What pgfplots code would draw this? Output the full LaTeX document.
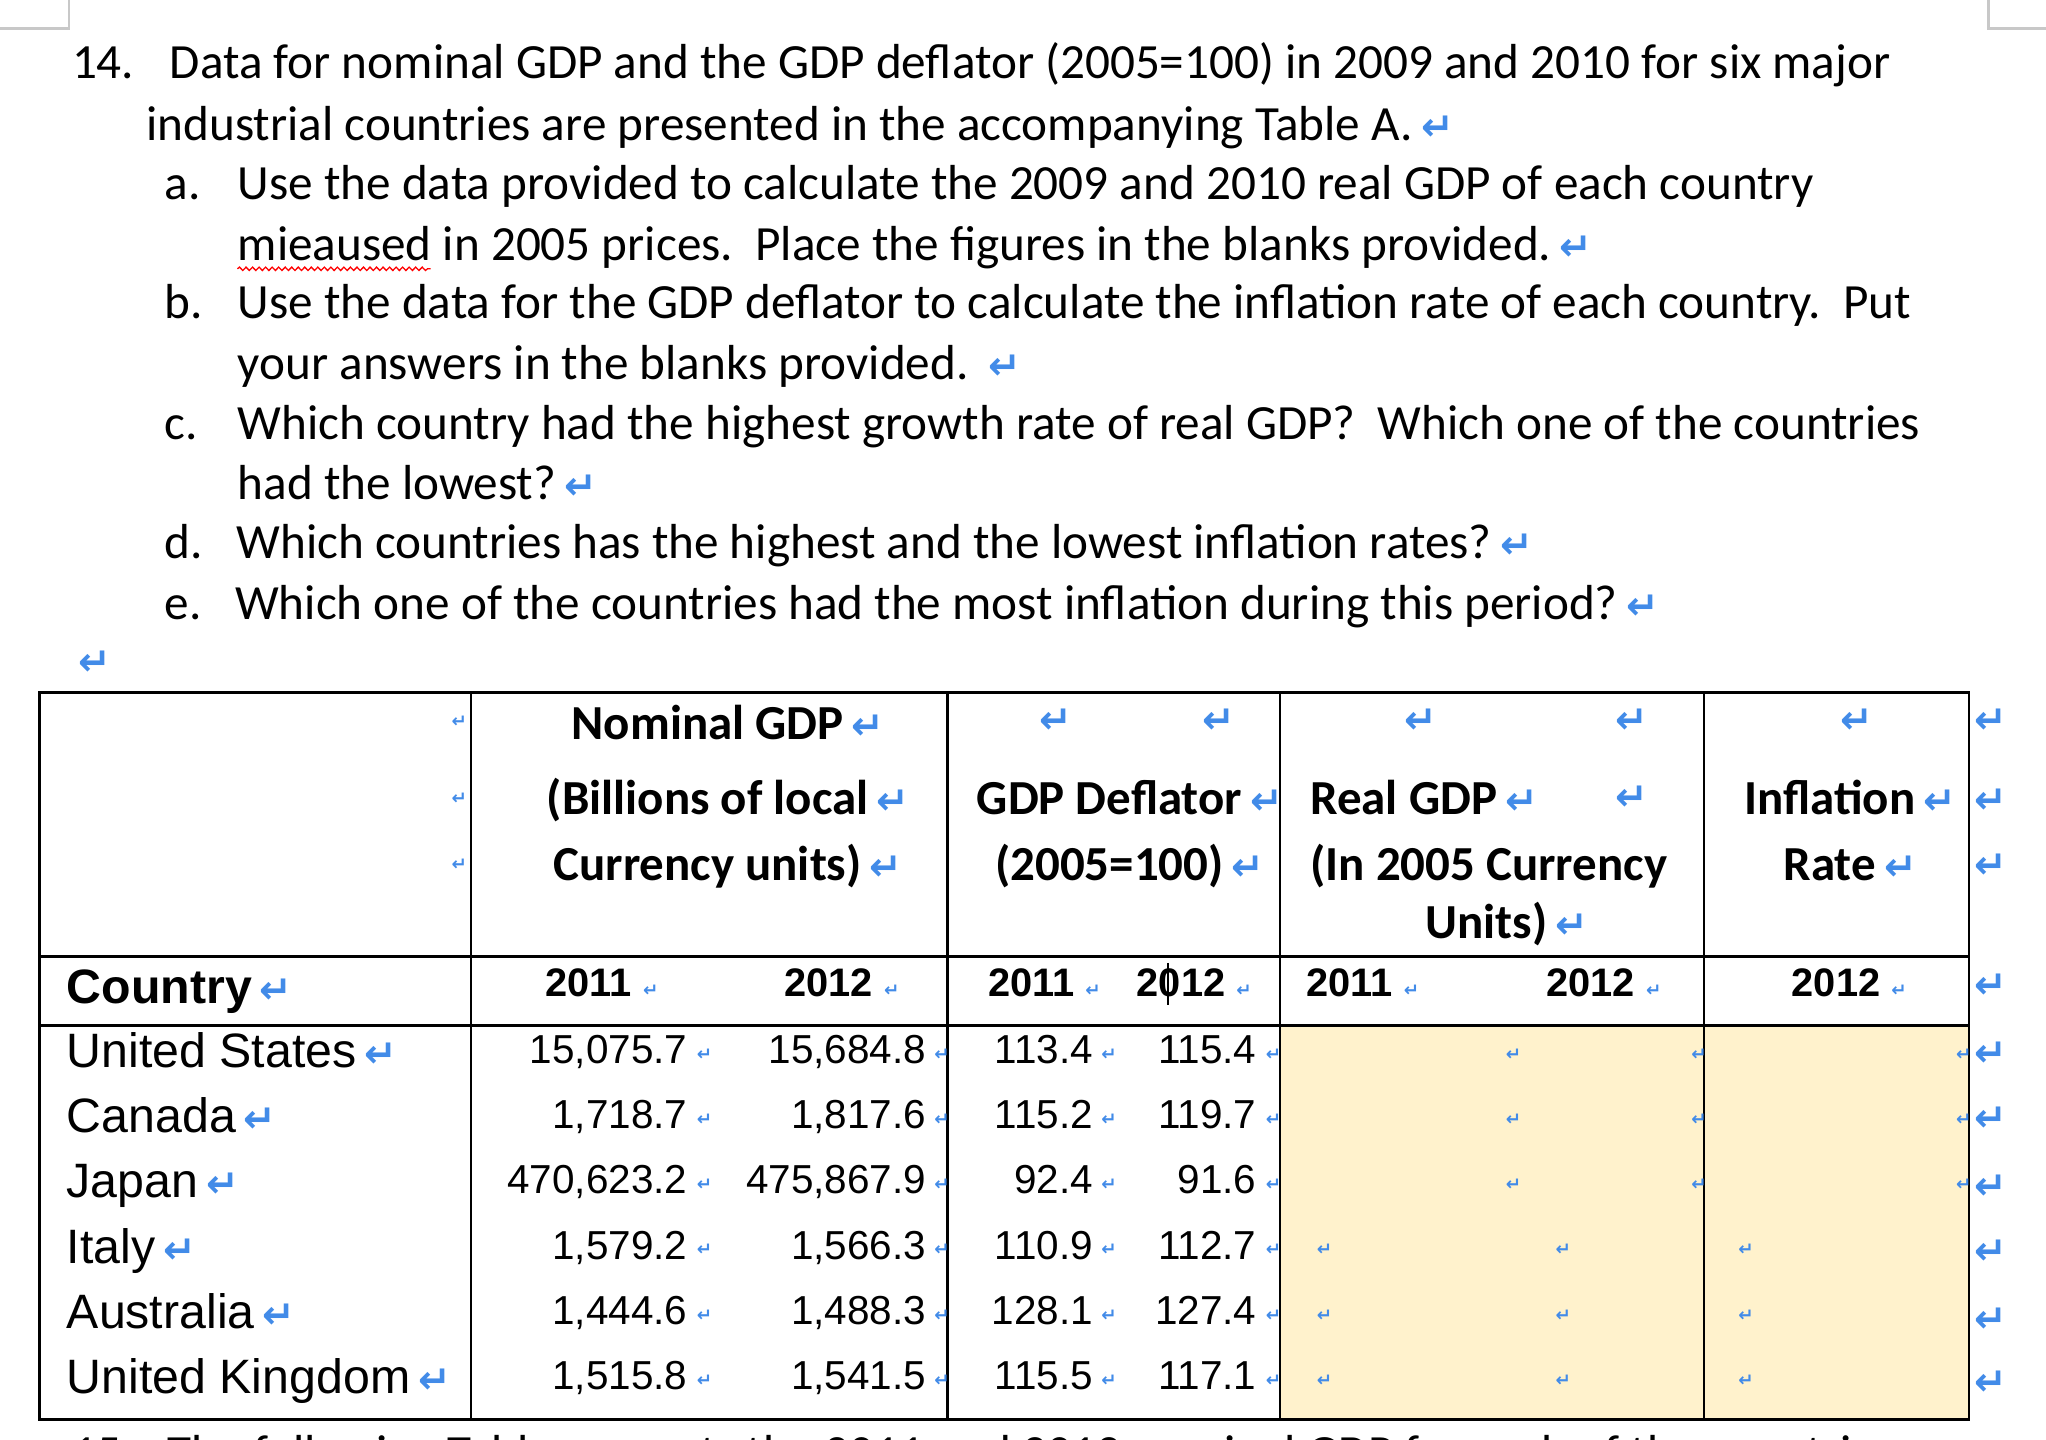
\documentclass[border=0pt]{standalone}
\usepackage{pgfplots}
\pgfplotsset{compat=1.18}
\usepackage{pgfplotstable}
\usepackage{fontspec}
\usetikzlibrary{decorations.pathmorphing}
\setmainfont{Carlito}
\newfontfamily\arial{Liberation Sans}
\newfontfamily\arrowfont{DejaVu Sans}
\definecolor{retblue}{RGB}{66,139,232}
\definecolor{cellyellow}{RGB}{255,242,204}
\definecolor{cropgrey}{RGB}{200,200,200}
\newcommand\ret{\,{\color{retblue}\arrowfont\fontsize{30}{30}\selectfont\bfseries ↵}}
\newcommand\cmk{{\color{retblue}\arrowfont\fontsize{14}{14}\selectfont\bfseries ↵}}
\newcommand\body{\fontsize{37.7}{42}\selectfont}
\newcommand\hdr{\fontsize{37.5}{42}\selectfont\bfseries}
\newcommand\yr{\arial\fontsize{30.5}{33}\selectfont\bfseries}
\newcommand\cty{\arial\fontsize{37}{40}\selectfont}
\newcommand\num{\arial\fontsize{31}{34}\selectfont}

% baseline of each row, then nominal GDP and deflator for 2011 and 2012
\pgfplotstableread{
row  nom11     nom12     def11  def12
815  15075.7   15684.8   113.4  115.4
865  1718.7    1817.6    115.2  119.7
915  470623.2  475867.9  92.4   91.6
965  1579.2    1566.3    110.9  112.7
1015 1444.6    1488.3    128.1  127.4
1065 1515.8    1541.5    115.5  117.1
}\gdp

\begin{document}
\begin{tikzpicture}
\begin{axis}[name=main, width=1568pt, height=1103pt, scale only axis,
  xmin=0, xmax=1568, ymin=0, ymax=1103, y dir=reverse,
  axis lines=none, clip=false,
  /pgf/number format/.cd, fixed, fixed zerofill, precision=1, 1000 sep={,}, assume math mode=true]

% crop marks
\draw[cropgrey, line width=2pt] (axis cs:53,0) -- (axis cs:53,22) -- (axis cs:0,22);
\draw[cropgrey, line width=2pt] (axis cs:1524,0) -- (axis cs:1524,22) -- (axis cs:1568,22);

% question text
\begin{scope}[every node/.style={anchor=base west, inner sep=0pt, font=\body}]
\node at (axis cs:55,60) {14.};
\node at (axis cs:130,60) {Data for nominal GDP and the GDP deflator (2005=100) in 2009 and 2010 for six major};
\node at (axis cs:112,108) {industrial countries are presented in the accompanying Table A.\ret};
\node at (axis cs:126,153) {a.};
\node at (axis cs:182,153) {Use the data provided to calculate the 2009 and 2010 real GDP of each country};
\node at (axis cs:182,200) {mieaused in 2005 prices.\ \ Place the figures in the blanks provided.\ret};
\node at (axis cs:126,244) {b.};
\node at (axis cs:182,244) {Use the data for the GDP deflator to calculate the inflation rate of each country.\ \ Put};
\node at (axis cs:182,291) {your answers in the blanks provided.\ \ret};
\node at (axis cs:126,337) {c.};
\node at (axis cs:182,337) {Which country had the highest growth rate of real GDP?\ \ Which one of the countries};
\node at (axis cs:182,383) {had the lowest?\ret};
\node at (axis cs:126,428) {d.};
\node at (axis cs:181,428) {Which countries has the highest and the lowest inflation rates?\ret};
\node at (axis cs:126,475) {e.};
\node at (axis cs:180,475) {Which one of the countries had the most inflation during this period?\ret};
\node at (axis cs:54,518) {\ret};
\end{scope}
\draw[red, line width=1pt, decorate, decoration={snake, amplitude=1.3pt, segment length=5pt}]
  (axis cs:182,206) -- (axis cs:330,206);

% table frame
\fill[cellyellow] (axis cs:981,786) rectangle (axis cs:1509,1088);
\draw[line width=2.2pt] (axis cs:30,531) rectangle (axis cs:1509,1088);
\draw[line width=2pt] (axis cs:30,733) -- (axis cs:1509,733);
\draw[line width=2.4pt] (axis cs:30,786) -- (axis cs:1509,786);
\pgfplotsinvokeforeach{361,726,981,1306}{
  \draw[line width=1.8pt] (axis cs:#1,531) -- (axis cs:#1,1088);
}
\draw[line width=1pt] (axis cs:895,738) -- (axis cs:895,770);

% header text
\begin{scope}[every node/.style={anchor=base, inner sep=0pt, font=\hdr}]
\node at (axis cs:558,567) {Nominal GDP\ret};
\node at (axis cs:558,624) {(Billions of local\ret};
\node at (axis cs:558,675) {Currency units)\ret};
\node at (axis cs:866,624) {GDP Deflator\ret};
\node at (axis cs:866,675) {(2005=100)\ret};
\node[anchor=base west] at (axis cs:1004,624) {Real GDP\ret};
\node at (axis cs:1141,675) {(In 2005 Currency};
\node at (axis cs:1155,719) {Units)\ret};
\node at (axis cs:1418,624) {Inflation\ret};
\node at (axis cs:1418,675) {Rate\ret};
\end{scope}
\begin{scope}[every node/.style={anchor=center, inner sep=0pt}]
\node at (axis cs:808,553) {\ret};
\node at (axis cs:933,553) {\ret};
\node at (axis cs:1088,553) {\ret};
\node at (axis cs:1250,553) {\ret};
\node at (axis cs:1250,612) {\ret};
\node at (axis cs:1422,553) {\ret};
\pgfplotsinvokeforeach{553,614,664,756,808,858,910,960,1012,1060}{
  \node at (axis cs:1525,#1) {\ret};
}
\pgfplotsinvokeforeach{553,612,663}{
  \node at (axis cs:352,#1) {\cmk};
}
\end{scope}

% year row
\begin{scope}[every node/.style={anchor=base west, inner sep=0pt, font=\yr}]
\node at (axis cs:418,764) {2011\ \cmk};
\node at (axis cs:601,764) {2012\ \cmk};
\node at (axis cs:757,764) {2011\ \cmk};
\node at (axis cs:871,764) {2012\ \cmk};
\node at (axis cs:1001,764) {2011\ \cmk};
\node at (axis cs:1185,764) {2012\ \cmk};
\node at (axis cs:1373,764) {2012\ \cmk};
\node[font=\cty\bfseries] at (axis cs:51,769) {Country\ret};
\end{scope}

% country names
\begin{scope}[every node/.style={anchor=base west, inner sep=0pt, font=\cty}]
\node at (axis cs:51,818) {United States\ret};
\node at (axis cs:51,868) {Canada\ret};
\node at (axis cs:51,918) {Japan\ret};
\node at (axis cs:51,968) {Italy\ret};
\node at (axis cs:51,1018) {Australia\ret};
\node at (axis cs:51,1068) {United Kingdom\ret};
\end{scope}

% data values
\pgfplotsset{every node near coord/.append style={anchor=base east, inner sep=0pt, font=\num}}
\addplot[draw=none, nodes near coords, point meta=explicit] table[x expr=527, y=row, meta=nom11] {\gdp};
\addplot[draw=none, nodes near coords, point meta=explicit] table[x expr=710, y=row, meta=nom12] {\gdp};
\addplot[draw=none, nodes near coords, point meta=explicit] table[x expr=838, y=row, meta=def11] {\gdp};
\addplot[draw=none, nodes near coords, point meta=explicit] table[x expr=963, y=row, meta=def12] {\gdp};

% cell end marks
\begin{scope}[every node/.style={anchor=center, inner sep=0pt}]
\pgfplotsinvokeforeach{808,858,908,958,1008,1058}{
  \node at (axis cs:540,#1) {\cmk};
  \node at (axis cs:722,#1) {\cmk};
  \node at (axis cs:850,#1) {\cmk};
  \node at (axis cs:976,#1) {\cmk};
}
\pgfplotsinvokeforeach{808,858,908}{
  \node at (axis cs:1160,#1) {\cmk};
  \node at (axis cs:1302,#1) {\cmk};
  \node at (axis cs:1505,#1) {\cmk};
}
\pgfplotsinvokeforeach{958,1008,1058}{
  \node at (axis cs:1015,#1) {\cmk};
  \node at (axis cs:1198,#1) {\cmk};
  \node at (axis cs:1338,#1) {\cmk};
}
\end{scope}

% next question, cut off by the page edge as in the screenshot
\begin{scope}
\clip (axis cs:0,1090) rectangle (axis cs:1568,1103);
\node[anchor=base west, inner sep=0pt, font=\body] at (axis cs:55,1126) {15.\ \ \ The following Table presents the 2011 and 2012 nominal GDP for each of the countries};
\end{scope}
\end{axis}
\pgfresetboundingbox
\useasboundingbox (main.south west) rectangle (main.north east);
\end{tikzpicture}
\end{document}
